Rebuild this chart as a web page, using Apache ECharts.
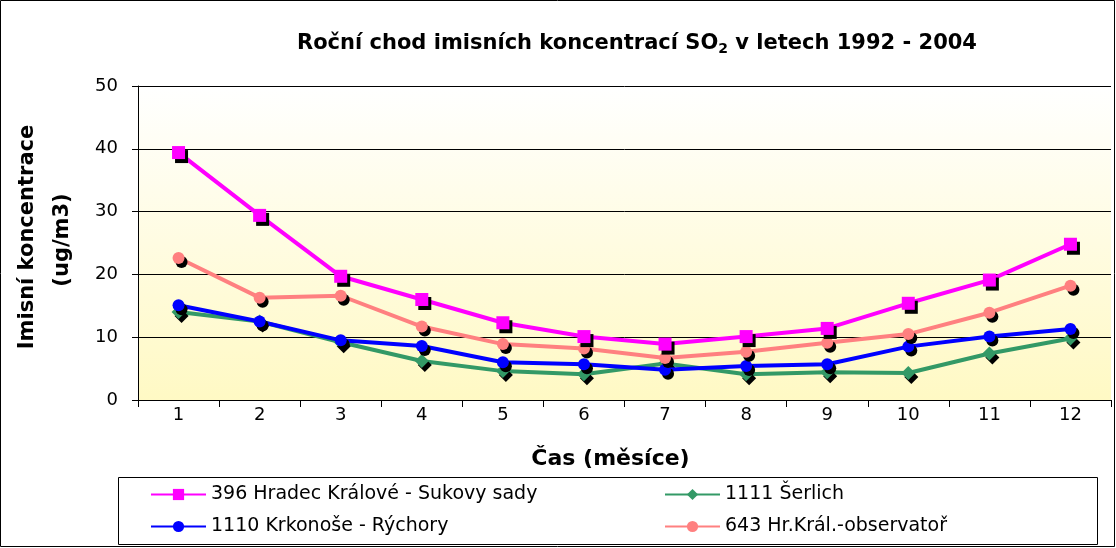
<!DOCTYPE html>
<html>
<head>
<meta charset="utf-8">
<script src="https://cdn.jsdelivr.net/npm/echarts@6/dist/echarts.min.js"></script>
<style>
  html, body { margin: 0; padding: 0; background: #fff; }
  #chart { width: 1116px; height: 548px; }
</style>
</head>
<body>
<div id="chart"></div>
<script>
// months
const months = ['1', '2', '3', '4', '5', '6', '7', '8', '9', '10', '11', '12'];

// SO2 ug/m3
const hradec = [39.4, 29.4, 19.7, 16.0, 12.3, 10.1, 8.9, 10.1, 11.4, 15.4, 19.1, 24.8];
const serlich = [14.0, 12.5, 9.2, 6.2, 4.6, 4.1, 5.8, 4.1, 4.4, 4.3, 7.4, 9.8];
const rychory = [15.1, 12.5, 9.5, 8.6, 6.0, 5.7, 4.8, 5.4, 5.7, 8.5, 10.1, 11.3];
const observator = [22.6, 16.3, 16.6, 11.7, 8.9, 8.2, 6.7, 7.7, 9.1, 10.5, 13.9, 18.2];

const names = [
  '396 Hradec Králové - Sukovy sady',
  '1111 Šerlich',
  '1110 Krkonoše - Rýchory',
  '643 Hr.Král.-observatoř'
];

const font = '"DejaVu Sans", Arial, sans-serif';
const chart = echarts.init(document.getElementById('chart'));

function line(name, data, color, symbol, size, z) {
  return {
    name: name,
    type: 'line',
    data: data,
    symbol: symbol,
    symbolSize: size,
    z: z,
    lineStyle: { color: color, width: 4 },
    itemStyle: {
      color: color,
      shadowColor: '#000',
      shadowBlur: 0,
      shadowOffsetX: 3,
      shadowOffsetY: 4
    },
    emphasis: { disabled: true },
    animation: false
  };
}

const legendBase = {
  orient: 'vertical',
  top: 485,
  padding: 0,
  itemWidth: 55,
  itemHeight: 14,
  itemGap: 13,
  textStyle: { fontFamily: font, fontSize: 19, color: '#000' }
};

const option = {
  animation: false,
  title: {
    text: 'Roční chod imisních koncentrací SO{sub|2} v letech 1992 - 2004',
    left: 632,
    textAlign: 'center',
    top: 27,
    textStyle: {
      fontFamily: font,
      fontSize: 21,
      fontWeight: 'bold',
      color: '#000',
      rich: {
        sub: { fontFamily: font, fontSize: 14, fontWeight: 'bold', color: '#000', padding: [10, 0, 0, 0] }
      }
    }
  },
  grid: { left: 138, top: 86, right: 5, bottom: 148, show: true, borderWidth: 0,
    backgroundColor: {
      type: 'linear', x: 0, y: 0, x2: 0, y2: 1,
      colorStops: [{ offset: 0, color: '#ffffff' }, { offset: 1, color: '#fff9c4' }]
    }
  },
  xAxis: {
    type: 'category',
    data: months,
    boundaryGap: true,
    axisLine: { lineStyle: { color: '#000', width: 1 } },
    axisTick: { show: true, inside: false, length: 7, lineStyle: { color: '#000' } },
    axisLabel: { fontFamily: font, fontSize: 18, color: '#000', margin: 6 },
    name: 'Čas (měsíce)',
    nameLocation: 'middle',
    nameGap: 48,
    nameTextStyle: { fontFamily: font, fontSize: 22, fontWeight: 'bold', color: '#000', padding: [0, 28, 0, 0] }
  },
  yAxis: {
    type: 'value',
    min: 0,
    max: 50,
    interval: 10,
    axisLine: { show: true, lineStyle: { color: '#000', width: 1 } },
    axisTick: { show: true, length: 6, lineStyle: { color: '#000' } },
    axisLabel: { fontFamily: font, fontSize: 18, color: '#000', margin: 20 },
    splitLine: { lineStyle: { color: '#000', width: 1 } }
  },
  legend: [
    Object.assign({}, legendBase, { data: [names[0], names[2]], left: 150 }),
    Object.assign({}, legendBase, { data: [names[1], names[3]], left: 664 })
  ],
  graphic: [
    { type: 'rect', shape: { x: 0.5, y: 0.5, width: 1114, height: 546 }, style: { fill: null, stroke: '#000', lineWidth: 1 }, silent: true, z: -10 },
    { type: 'rect', shape: { x: 118.5, y: 477.5, width: 979, height: 67 }, style: { fill: '#fff', stroke: '#000', lineWidth: 1 }, silent: true, z: -5 },
    { type: 'text', x: 28, y: 237, rotation: Math.PI / 2, style: { text: 'Imisní koncentrace', font: 'bold 21px ' + font, fill: '#000', align: 'center', verticalAlign: 'middle' } },
    { type: 'text', x: 63, y: 240, rotation: Math.PI / 2, style: { text: '(ug/m3)', font: 'bold 21px ' + font, fill: '#000', align: 'center', verticalAlign: 'middle' } }
  ],
  series: [
    line(names[0], hradec, '#ff00ff', 'rect', 13, 5),
    line(names[1], serlich, '#339966', 'diamond', 14, 2),
    line(names[2], rychory, '#0000ff', 'circle', 12, 3),
    line(names[3], observator, '#ff8080', 'circle', 12, 4)
  ]
};

chart.setOption(option);
</script>
</body>
</html>
